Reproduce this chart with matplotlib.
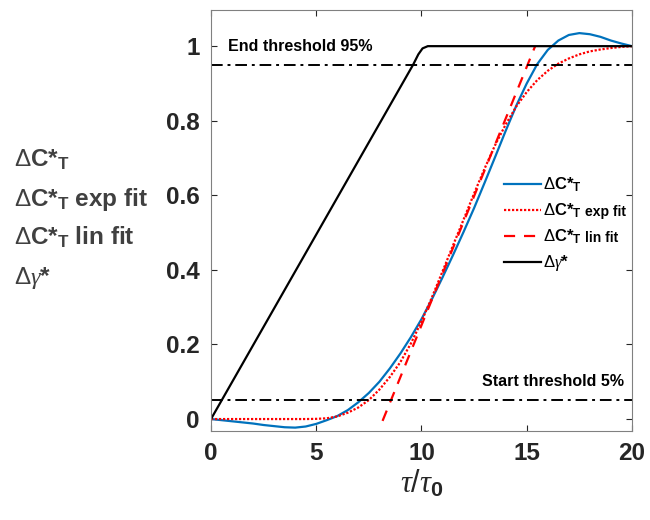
import matplotlib
matplotlib.use("Agg")
import matplotlib.pyplot as plt

# tau / tau0 samples and curves
TAU_C = [0, 0.5, 1, 1.5, 2, 2.5, 3, 3.5, 4, 4.5, 5, 5.5, 6, 6.5, 7, 7.5, 8, 8.5, 9, 9.5,
         10, 10.5, 11, 11.5, 12, 12.5, 13, 13.5, 14, 14.5, 15, 15.5, 16, 16.5, 17, 17.5,
         18, 18.5, 19, 19.5, 20]
DC_T = [0, -0.003, -0.006, -0.009, -0.012, -0.016, -0.019, -0.022, -0.023, -0.020, -0.013,
        -0.003, 0.008, 0.024, 0.045, 0.070, 0.100, 0.136, 0.176, 0.220,
        0.268, 0.322, 0.380, 0.440, 0.502, 0.566, 0.634, 0.703, 0.773, 0.840, 0.900,
        0.952, 0.990, 1.015, 1.030, 1.035, 1.032, 1.025, 1.015, 1.007, 1.000]
DC_EXP = [0, 0, 0, 0, 0, 0, 0, 0, 0, 0, 0.0005,
          0.002, 0.007, 0.017, 0.031, 0.051, 0.079, 0.113, 0.153, 0.203,
          0.262, 0.327, 0.396, 0.466, 0.535, 0.605, 0.672, 0.735, 0.790, 0.838, 0.877,
          0.909, 0.934, 0.953, 0.967, 0.978, 0.986, 0.991, 0.995, 0.998, 1.000]
TAU_LIN = [8.15, 15.4]
DC_LIN = [-0.005, 1.0]
TAU_G = [0, 9.6, 9.85, 10.05, 10.3, 20]
D_GAMMA = [0, 0.95, 0.978, 0.994, 1.0, 1.0]
THRESH = [0.05, 0.95]

BLUE = "#0072BD"
RED = "#FF0000"
GRAY = "#262626"

plt.rcParams["font.family"] = ["Liberation Sans", "DejaVu Sans"]
plt.rcParams["mathtext.fontset"] = "custom"
plt.rcParams["mathtext.rm"] = "Liberation Sans"
plt.rcParams["mathtext.bf"] = "Liberation Sans:bold"
plt.rcParams["mathtext.it"] = "Liberation Serif:italic"

fig = plt.figure(figsize=(6.5, 5.2), dpi=100)
ax = fig.add_axes([0.3246, 0.1712, 0.6477, 0.8096])

CT = r"$\Delta$C*$_\mathbf{T}$"
ax.plot(TAU_C, DC_T, color=BLUE, lw=1.6, label=CT)
ax.plot(TAU_C, DC_EXP, color=RED, lw=1.6, ls=(0, (1, 0.8)), label=CT)
ax.plot(TAU_LIN, DC_LIN, color=RED, lw=1.6, ls=(0, (5, 4)), label=CT)
ax.plot(TAU_G, D_GAMMA, color="black", lw=1.6, label=r"$\Delta\gamma$*")
for th in THRESH:
    ax.axhline(th, color="black", lw=1.4, ls=(0, (6, 2.5, 1.5, 2.5)))

ax.text(0.8, 1.0, "End threshold 95%", fontsize=11.5, fontweight="bold", va="center", ha="left")
ax.text(19.6, 0.1, "Start threshold 5%", fontsize=11.5, fontweight="bold", va="center", ha="right")

ax.set_xlim(0, 20)
ax.set_ylim(-0.032, 1.097)
ax.set_xticks([0, 5, 10, 15, 20])
ax.set_yticks([0, 0.2, 0.4, 0.6, 0.8, 1])
ax.set_yticklabels(["0", "0.2", "0.4", "0.6", "0.8", "1"])
ax.tick_params(direction="in", length=4, width=0.8, top=True, right=True,
               labelsize=17.5, colors=GRAY, pad=8)
for lab in ax.get_xticklabels() + ax.get_yticklabels():
    lab.set_fontweight("bold")
for sp in ax.spines.values():
    sp.set_color("#808080")
    sp.set_linewidth(0.8)

ax.set_xlabel(r"$\tau/\tau_\mathbf{0}$", fontsize=22, color=GRAY, labelpad=2)

leg = ax.legend(loc="upper left", bbox_to_anchor=(0.68, 0.622), frameon=False,
                fontsize=12, handlelength=2.2, handletextpad=0.15, labelspacing=0.45,
                borderaxespad=0)
for t in leg.get_texts():
    t.set_fontweight("bold")
# small suffixes next to the legend labels
fig.text(585 / 650, 1 - 212 / 520, "exp fit", fontsize=10, fontweight="bold", va="center")
fig.text(585 / 650, 1 - 238 / 520, "lin fit", fontsize=10, fontweight="bold", va="center")

ylab = [CT, CT + " exp fit", CT + " lin fit", r"$\Delta\gamma$*"]
for i, s in enumerate(ylab):
    fig.text(14 / 650, 1 - (167 + 39 * i) / 520, s, fontsize=17.5, fontweight="bold",
             color="#404040", va="baseline", ha="left")

fig.savefig("out.png", dpi=100, facecolor="white")
